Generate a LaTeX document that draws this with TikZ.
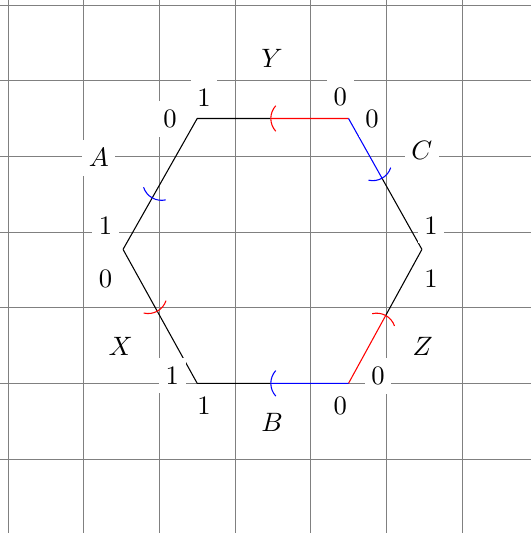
\documentclass[tikz,border=0pt]{standalone}
\usepackage{tikz}
\usetikzlibrary{arrows.meta,calc}
\tikzset{
  gridline/.style={draw=gray, line width=0.35pt},
  side/.style={draw=black, line width=0.4pt},
  seam/.style={side, -{Arc Barb[arc=85, length=7.3pt, width=14.6pt, #1]}},
  seamred/.style={seam=red, draw=red},
  seamblue/.style={seam=blue, draw=blue},
  lbl/.style={fill=white, inner xsep=2.5pt},
}

\begin{document}
\begin{tikzpicture}
  \useasboundingbox (-3.106,-3.978) rectangle (3.912,3.066);
  \draw[gridline] (-3.106,-3.978) grid (3.912,3.066);
  % corners of the hexagon
  \coordinate (tl) at (-0.5,1.5);
  \coordinate (tr) at (1.5,1.5);
  \coordinate (r) at (2.47,-0.23);
  \coordinate (br) at (1.5,-2);
  \coordinate (bl) at (-0.5,-2);
  \coordinate (l) at (-1.48,-0.23);
  % where the sides are cut
  \coordinate (cY) at ($(tr)!0.517!(tl)$);
  \coordinate (cC) at ($(tr)!0.46!(r)$);
  \coordinate (cZ) at ($(br)!0.51!(r)$);
  \coordinate (cB) at ($(br)!0.517!(bl)$);
  \coordinate (cX) at ($(l)!0.465!(bl)$);
  \coordinate (cA) at ($(tl)!0.61!(l)$);
  \draw[seamred] (tr) -- (cY);
  \draw[side] (cY) -- (tl);
  \draw[seamblue] (tr) -- (cC);
  \draw[side] (cC) -- (r);
  \draw[seamred] (br) -- (cZ);
  \draw[side] (cZ) -- (r);
  \draw[seamblue] (br) -- (cB);
  \draw[side] (cB) -- (bl);
  \draw[seam=red] (l) -- (cX);
  \draw[side] (cX) -- (bl);
  \draw[seam=blue] (tl) -- (cA);
  \draw[side] (cA) -- (l);
  % side names
  \node[lbl] (nY) at (0.49,2.30) {$Y$};
  \node[lbl] (nC) at (2.47,1.08) {$C$};
  \node[lbl] (nZ) at (2.48,-1.51) {$Z$};
  \node[lbl] (nB) at (0.49,-2.52) {$B$};
  \node[lbl] (nX) at (-1.51,-1.51) {$X$};
  \node[lbl] (nA) at (-1.80,0.98) {$A$};
  % ends of the sides
  \node[lbl] (tlY) at (-0.41,1.78) {1};
  \node[lbl] (tlA) at (-0.86,1.49) {0};
  \node[lbl] (trY) at (1.39,1.78) {0};
  \node[lbl] (trC) at (1.81,1.49) {0};
  \node[lbl] (rC) at (2.59,0.09) {1};
  \node[lbl] (rZ) at (2.59,-0.62) {1};
  \node[lbl] (brZ) at (1.89,-1.90) {0};
  \node[lbl] (brB) at (1.39,-2.30) {0};
  \node[lbl] (blB) at (-0.41,-2.30) {1};
  \node[lbl] (blX) at (-0.83,-1.90) {1};
  \node[lbl] (lX) at (-1.71,-0.62) {0};
  \node[lbl] (lA) at (-1.71,0.09) {1};
\end{tikzpicture}
\end{document}
